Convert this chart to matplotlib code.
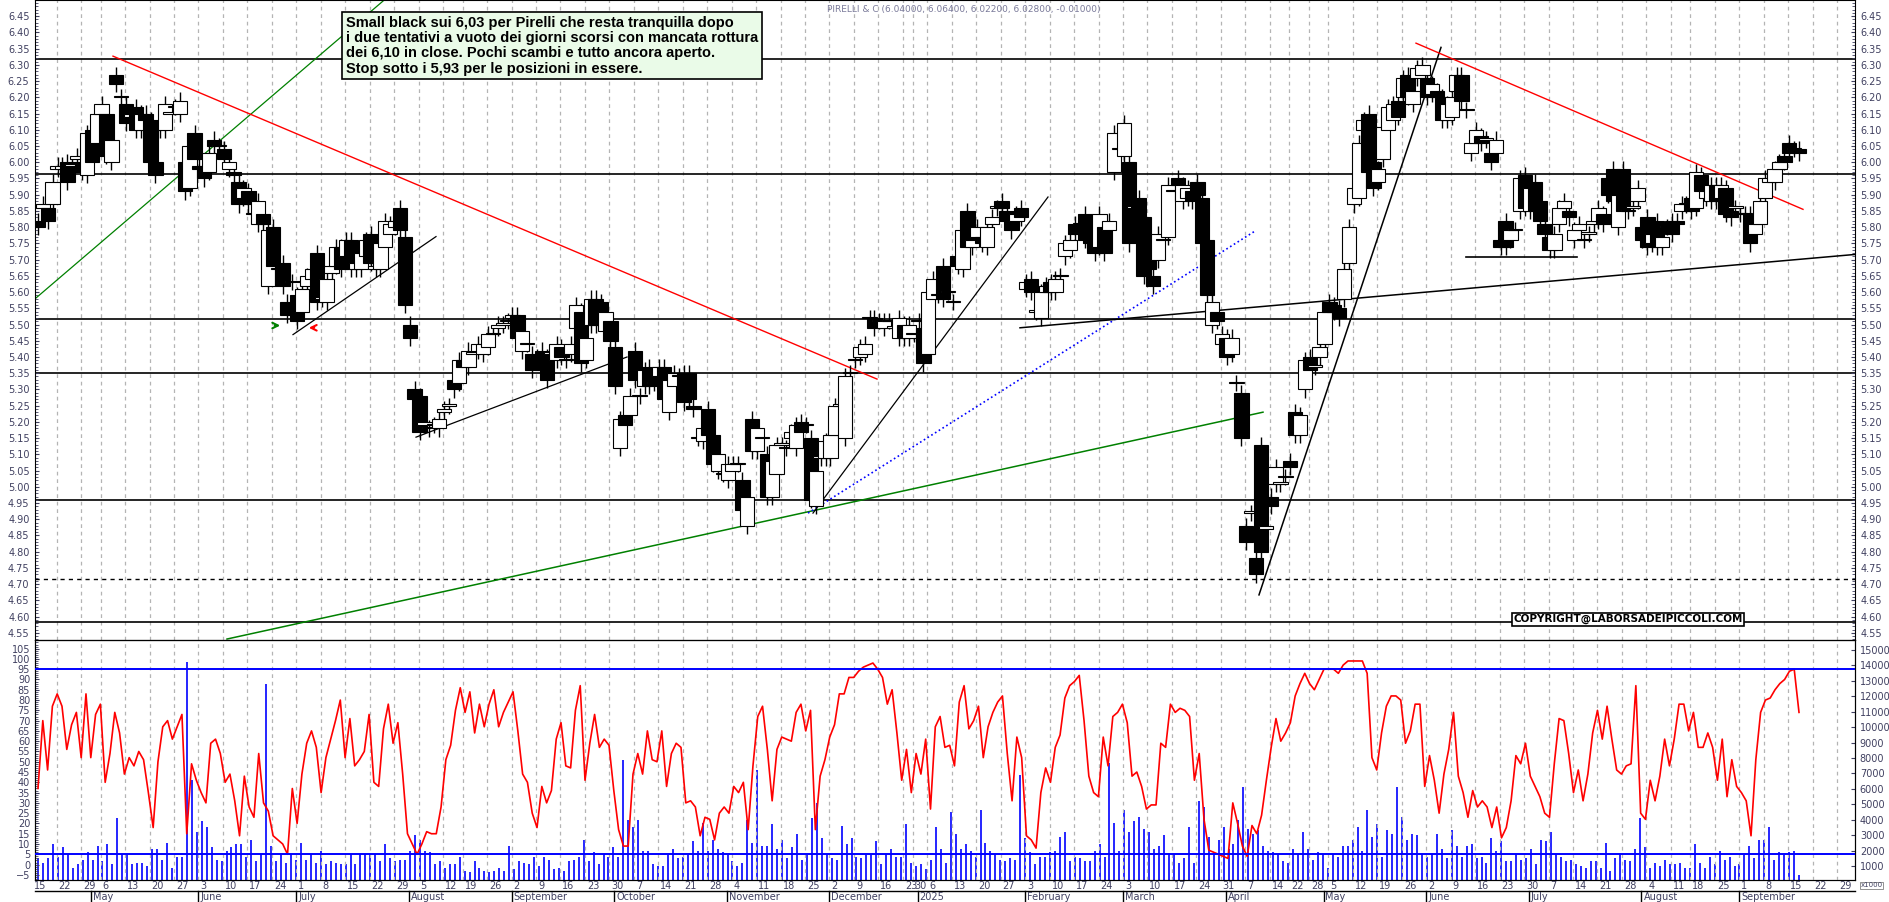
import numpy as np
import pandas as pd
import matplotlib
matplotlib.use("Agg")
import matplotlib.pyplot as plt
from matplotlib.patches import Rectangle
from matplotlib.transforms import blended_transform_factory as btf

# ---------------- DATA ----------------
opens = [5.82,5.86,5.86,5.87,5.98,5.98,6.00,5.99,6.01,6.00,5.96,6.10,6.06,6.15,6.15,6.00,6.27,6.20,6.18,6.14,
 6.17,6.10,6.15,6.13,6.00,6.11,6.10,6.15,6.17,6.15,6.00,5.92,6.09,5.99,5.99,5.97,6.07,6.05,6.04,5.98,
 5.97,5.94,5.89,5.91,5.84,5.81,5.84,5.62,5.80,5.67,5.69,5.57,5.63,5.59,5.54,5.62,5.64,5.72,5.58,5.57,
 5.66,5.68,5.74,5.71,5.76,5.67,5.67,5.71,5.78,5.67,5.67,5.74,5.78,5.80,5.86,5.77,5.50,5.30,5.28,5.19,
 5.18,5.19,5.18,5.23,5.25,5.33,5.32,5.39,5.37,5.41,5.42,5.41,5.43,
 5.47,5.49,5.50,5.51,5.52,5.53,5.42,5.44,5.41,5.40,5.42,5.40,5.41,5.39,5.43,5.39,5.41,5.49,5.54,5.39,
 5.50,5.58,5.57,5.48,5.51,5.43,5.12,5.22,5.22,5.42,5.28,5.31,5.37,5.32,5.34,5.37,5.23,5.31,5.34,5.35,
 5.35,5.25,5.15,5.14,5.24,5.16,5.05,5.04,5.02,5.05,5.07,5.02,4.88,5.21,5.11,5.15,5.10,4.97,5.04,5.13,
 5.12,5.15,5.12,5.20,5.19,5.15,4.94,5.09,5.09,5.09,5.16,5.25,5.15,5.35,5.39,5.40,5.41,5.52,5.52,5.51,
 5.49,5.51,5.49,5.46,5.50,5.46,5.47,5.51,5.49,5.41,5.58,5.59,
 5.68,5.60,5.57,5.71,5.67,5.85,5.74,5.77,5.77,5.74,5.81,5.86,5.88,5.85,5.82,5.82,5.86,5.61,5.64,5.54,
 5.52,5.60,5.63,5.60,5.65,5.71,5.73,5.81,5.81,5.84,5.77,5.76,5.74,5.80,5.79,5.97,6.04,6.02,6.00,5.86,
 5.89,5.83,5.72,5.65,5.70,5.76,5.77,5.91,5.95,5.88,5.89,5.91,5.94,5.89,5.76,5.50,5.54,5.44,5.46,5.41,
 5.32,5.29,4.88,4.92,4.78,5.13,4.87,4.97,5.01,5.01,5.03,5.08,5.23,5.16,5.30,5.40,5.37,5.40,5.44,5.57,
 5.56,5.55,5.58,5.69,5.87,5.89,6.10,6.15,6.00,5.94,6.01,6.10,
 6.13,6.19,6.20,6.27,6.18,6.26,6.27,6.26,6.21,6.22,6.20,6.13,6.14,6.22,6.27,6.16,6.03,6.06,6.08,6.07,
 6.03,6.03,5.76,5.82,5.76,5.79,5.85,5.96,5.85,5.94,5.88,5.81,5.77,5.73,5.81,5.86,5.85,5.76,5.79,5.76,
 5.78,5.81,5.82,5.84,5.95,5.98,5.80,5.98,5.85,5.86,5.88,5.80,5.83,5.75,5.82,5.74,5.80,5.82,5.82,5.85,
 5.87,5.89,5.86,5.96,5.89,5.88,5.93,5.89,5.92,5.85,5.86,5.84,5.84,5.84,5.78,5.81,5.89,5.94,5.94,5.98,
 6.02,6.06,6.04,6.04]
closes = [5.80,5.87,5.82,5.94,5.99,5.99,5.94,5.99,6.02,5.97,6.09,6.00,6.15,6.18,6.02,6.07,6.24,6.20,6.12,6.15,
 6.10,6.15,6.13,6.00,5.96,6.10,6.18,6.15,6.17,6.19,5.91,6.05,6.01,5.98,5.95,6.03,6.05,6.05,6.01,6.00,
 5.96,5.87,5.92,5.87,5.84,5.88,5.81,5.79,5.68,5.67,5.62,5.53,5.63,5.51,5.61,5.65,5.67,5.57,5.58,5.64,
 5.68,5.74,5.67,5.76,5.67,5.69,5.72,5.76,5.69,5.68,5.75,5.82,5.81,5.82,5.79,5.56,5.46,5.27,5.17,5.20,
 5.18,5.19,5.21,5.24,5.25,5.30,5.39,5.37,5.42,5.41,5.44,5.44,5.47,
 5.47,5.50,5.50,5.51,5.53,5.46,5.48,5.44,5.36,5.40,5.36,5.33,5.41,5.44,5.40,5.39,5.44,5.56,5.38,5.46,
 5.58,5.50,5.53,5.54,5.45,5.31,5.21,5.19,5.28,5.33,5.28,5.36,5.31,5.32,5.37,5.27,5.33,5.35,5.34,5.26,
 5.27,5.24,5.15,5.18,5.16,5.07,5.10,5.04,5.07,5.07,5.07,4.93,4.97,5.11,5.18,5.15,4.97,5.08,5.13,5.13,
 5.12,5.17,5.19,5.17,5.19,4.96,5.05,5.09,5.14,5.16,5.25,5.25,5.34,5.35,5.39,5.43,5.44,5.52,5.49,5.51,
 5.51,5.51,5.49,5.52,5.46,5.50,5.47,5.51,5.38,5.60,5.64,5.59,
 5.58,5.60,5.57,5.68,5.79,5.74,5.76,5.80,5.75,5.80,5.83,5.86,5.86,5.82,5.79,5.84,5.83,5.63,5.60,5.54,
 5.60,5.62,5.60,5.64,5.65,5.75,5.76,5.78,5.81,5.76,5.75,5.72,5.84,5.72,5.82,6.09,6.04,6.12,5.75,5.86,
 5.82,5.65,5.67,5.62,5.78,5.76,5.93,5.91,5.93,5.93,5.92,5.88,5.90,5.75,5.59,5.57,5.51,5.47,5.40,5.46,
 5.32,5.15,4.83,4.92,4.73,4.80,4.88,4.94,5.06,5.01,5.03,5.06,5.16,5.22,5.39,5.36,5.37,5.43,5.54,5.54,
 5.54,5.52,5.67,5.80,5.92,6.06,6.13,5.97,5.92,5.98,6.11,6.17,
 6.18,6.14,6.26,6.20,6.22,6.29,6.30,6.20,6.24,6.20,6.13,6.18,6.20,6.27,6.19,6.16,6.06,6.10,6.06,6.07,
 6.00,6.07,5.74,5.74,5.79,5.79,5.95,5.86,5.92,5.85,5.82,5.78,5.73,5.78,5.86,5.88,5.83,5.79,5.81,5.76,
 5.78,5.82,5.86,5.81,5.90,5.88,5.90,5.85,5.85,5.86,5.92,5.76,5.74,5.78,5.74,5.77,5.80,5.78,5.81,5.87,
 5.87,5.85,5.97,5.91,5.91,5.93,5.88,5.93,5.84,5.83,5.86,5.84,5.84,5.75,5.81,5.88,5.95,5.95,5.98,6.00,
 6.00,6.03,6.04,6.03]

osc = [37,70,46,77,83,77,56,68,74,52,83,52,73,78,40,54,74,64,44,52,48,55,51,35,18,50,67,70,61,67,
 73,15,49,41,35,30,59,61,54,40,44,31,14,43,28,23,54,30,26,14,12,10,5,37,20,44,59,65,57,35,
 52,61,70,80,52,71,48,51,55,73,40,38,66,78,59,69,44,15,10,5,10,16,15,15,28,51,58,75,86,74,
 84,64,78,67,78,85,67,
 74,79,84,65,44,40,25,18,38,30,36,61,69,48,47,75,87,41,59,73,57,61,58,36,17,9,9,44,54,44,
 65,51,50,65,38,54,59,57,30,31,28,14,23,22,12,25,28,25,38,35,40,17,48,72,77,56,31,56,62,61,
 60,74,78,65,75,17,43,51,62,68,83,83,91,91,94,96,97,98,95,91,78,85,64,41,56,35,54,44,61,27,
 67,72,57,58,48,
 79,87,66,70,77,52,67,74,79,82,54,31,62,52,14,12,8,35,47,40,57,63,81,87,89,92,70,43,35,33,
 62,48,72,74,78,69,43,45,38,27,29,29,59,57,78,74,76,75,72,41,54,22,7,6,5,4,3,30,20,9,
 4,19,15,24,41,57,71,60,64,69,82,88,93,88,85,90,95,95,95,93,97,99,99,99,99,93,52,46,64,77,
 82,82,
 80,59,65,78,78,38,53,41,25,44,56,74,43,35,23,36,28,31,28,18,28,13,18,31,53,49,59,43,38,33,
 25,23,49,71,70,54,35,46,31,44,64,75,61,77,61,46,44,48,49,87,25,22,41,31,43,61,48,61,78,78,
 65,74,57,57,64,57,41,61,33,51,38,35,31,14,51,74,80,81,85,88,90,94,95,74]

volume_k = [1.5,1.2,1.5,2.4,1.6,2.2,1.8,0.85,1.1,1.4,1.9,1.4,2.3,1.3,2.4,1.1,4.1,1.8,1.8,1.1,
 1.2,1.2,1.0,2.1,2.1,1.4,2.5,0.85,1.6,1.6,14.2,6.6,3.2,3.9,3.5,2.2,1.4,1.3,2.0,2.2,
 2.4,2.4,1.6,2.7,1.3,1.8,12.8,2.3,1.3,1.7,1.2,1.8,1.4,2.5,1.4,1.8,1.2,2.0,1.1,1.3,
 1.2,1.1,1.1,1.8,1.1,1.8,1.8,1.8,1.8,1.3,2.4,1.5,1.3,1.4,1.4,2.0,3.0,2.7,2.0,1.9,
 1.1,1.3,0.9,1.1,1.1,1.6,0.7,0.6,1.3,0.9,0.7,0.6,0.7,0.85,0.7,
 2.3,0.8,1.3,1.2,1.1,1.6,1.0,1.6,1.4,0.8,0.9,0.7,1.3,1.4,1.6,2.7,1.3,1.9,1.1,1.8,
 1.6,2.2,1.6,7.9,4.0,3.5,4.0,2.0,2.0,1.1,1.0,1.0,1.7,2.1,1.5,1.6,1.7,2.6,2.0,3.8,
 2.0,2.7,2.1,1.9,1.7,1.3,1.0,1.2,4.0,2.5,7.2,2.3,2.3,3.7,2.1,2.7,1.5,2.2,3.1,1.4,
 1.7,4.1,5.1,2.8,1.8,1.5,1.4,3.6,2.4,2.8,1.6,1.5,1.7,1.7,2.6,1.1,1.8,2.1,1.6,1.6,
 3.7,1.2,1.0,1.1,0.8,1.4,3.5,2.1,
 1.2,4.5,3.1,2.1,2.4,2.0,1.6,4.6,2.5,2.0,1.7,1.4,1.3,1.5,1.4,6.9,2.8,1.9,1.1,1.6,
 1.6,1.9,2.0,2.9,3.2,1.3,1.6,1.5,1.3,1.3,2.0,2.4,1.6,7.7,3.8,2.0,4.6,3.2,3.9,4.2,
 3.4,3.2,2.1,2.3,3.0,1.8,1.8,1.2,1.5,3.5,1.2,5.2,4.8,2.9,1.9,2.7,3.5,2.1,2.4,4.0,
 6.1,3.4,3.1,3.3,2.3,2.0,1.9,1.8,1.3,1.2,2.1,1.8,3.2,2.1,1.4,1.9,1.8,0.9,1.8,1.6,
 2.3,2.3,2.7,3.5,2.0,4.6,2.9,3.7,1.6,3.3,3.1,6.1,
 4.2,2.7,3.1,3.0,1.8,1.6,1.8,3.1,2.1,1.5,3.3,2.3,1.6,2.3,2.4,1.5,1.6,1.2,2.8,2.0,
 2.6,1.3,1.3,1.8,1.4,1.5,2.1,1.1,2.7,2.6,3.2,1.8,1.6,1.3,1.4,1.1,1.0,0.85,1.3,1.3,
 0.85,2.5,0.7,1.5,1.8,1.4,1.3,2.1,4.1,2.2,0.9,1.2,1.0,1.4,1.1,1.1,1.2,0.9,0.9,2.4,
 1.2,0.9,1.6,1.1,2.0,1.4,1.6,1.0,1.1,1.7,2.3,1.5,2.7,2.7,3.5,1.4,1.9,1.7,1.9,2.0,0.4]

price_levels = [6.319, 5.963, 5.517, 5.350, 4.960, 4.583]
dashed_level = 4.716
month_names = {1:"2025",2:"February",3:"March",4:"April",5:"May",6:"June",7:"July",
               8:"August",9:"September",10:"October",11:"November",12:"December"}
holidays = ["2024-05-01","2024-08-15","2024-12-24","2024-12-25","2024-12-26","2024-12-31",
            "2025-01-01","2025-04-18","2025-04-21","2025-05-01","2025-08-15"]
title_txt = "PIRELLI & C (6.04000, 6.06400, 6.02200, 6.02800, -0.01000)"
note_txt = ("Small black sui 6,03 per Pirelli che resta tranquilla dopo\n"
            "i due tentativi a vuoto dei giorni scorsi con mancata rottura\n"
            "dei 6,10 in close. Pochi scambi e tutto ancora aperto.\n"
            "Stop sotto i 5,93 per le posizioni in essere.")

# ---------------- LAYOUT ----------------
W, H = 1890, 902
fig = plt.figure(figsize=(W/100, H/100), dpi=100)
fig.patch.set_facecolor("white")
L, R = 35, 1855
ax = fig.add_axes([L/W, 1-640/H, (R-L)/W, 640/H])
ax2 = fig.add_axes([L/W, 1-880/H, (R-L)/W, 240/H], sharex=ax)
axv = ax2.twinx()

N = len(closes)
step = (1799-38)/(N-1)
xmin = -(38-L)/step
xmax = (N-1) + (R-1799)/step

o = np.array(opens[:N]); c = np.array(closes)
x = np.arange(N)
hi = np.maximum(o, c) + 0.025
lo = np.minimum(o, c) - 0.025

bd = pd.bdate_range(end="2025-09-16", periods=N+20)
bd = bd[~bd.isin(pd.to_datetime(holidays))][-N:]

wk = pd.Series(range(N), index=bd)
iso = bd.isocalendar()
first_of_week = wk.groupby([iso.year.values, iso.week.values]).first()
grid_pos = [p - 1.2 for p in first_of_week.values]
fut_days = [pd.Timestamp("2025-09-22"), pd.Timestamp("2025-09-29")]
for d in fut_days:
    grid_pos.append(grid_pos[-1] + 5)
grid_labels = [bd[p].day for p in first_of_week.values] + [d.day for d in fut_days]

for a in (ax, ax2):
    for gx in grid_pos:
        a.axvline(gx, color="#b4b4b4", lw=0.9, ls=(0, (3, 3)), zorder=0)

# ---------------- PRICE PANEL ----------------
ax.set_xlim(xmin, xmax)
ax.set_ylim(4.528, 6.50)
for lv in price_levels:
    ax.axhline(lv, color="black", lw=1.2, zorder=1)
ax.axhline(dashed_level, color="black", lw=1.0, ls=(0, (3, 3)), zorder=1)

def pidx(px):
    return (px-38)/step

seg = [
    (30, 5.566, 385, 6.502, "green", "-", 0.9),
    (113, 6.327, 877, 5.332, "red", "-", 1.0),
    (293, 5.469, 436, 5.771, "black", "-", 0.9),
    (416, 5.153, 627, 5.400, "black", "-", 0.9),
    (227, 4.531, 1263, 5.230, "green", "-", 1.1),
    (813, 4.919, 1048, 5.893, "black", "-", 0.9),
    (808, 4.919, 1255, 5.788, "blue", ":", 1.2),
    (1020, 5.490, 1855, 5.716, "black", "-", 1.1),
    (1466, 5.707, 1577, 5.707, "black", "-", 1.2),
    (1259, 4.667, 1441, 6.354, "black", "-", 1.1),
    (1416, 6.367, 1803, 5.855, "red", "-", 1.0),
]
for x0, p0, x1, p1, col, ls, lw in seg:
    ax.plot([pidx(x0), pidx(x1)], [p0, p1], color=col, ls=ls, lw=lw, zorder=2)

bw = step*0.6
ax.vlines(x, lo, hi, color="black", lw=1.0, zorder=3)
for i in range(N):
    up = c[i] >= o[i]
    b0, b1 = min(o[i], c[i]), max(o[i], c[i])
    hgt = max(b1-b0, 0.004)
    ax.add_patch(Rectangle((i-bw/2, b0), bw, hgt, facecolor="white" if up else "black",
                           edgecolor="black", lw=0.8, zorder=4))

ax.annotate("", xy=(pidx(283), 5.497), xytext=(pidx(272), 5.497),
            arrowprops=dict(arrowstyle="->", color="green", lw=1.5))
ax.annotate("", xy=(pidx(306), 5.49), xytext=(pidx(317), 5.49),
            arrowprops=dict(arrowstyle="->", color="red", lw=1.5))

yt = np.round(np.arange(4.55, 6.451, 0.05), 2)
ax.set_yticks(yt)
ax.set_yticklabels([f"{v:.2f}" for v in yt])
ax.set_yticks(np.arange(4.53, 6.50, 0.01), minor=True)
ax.tick_params(axis="y", which="both", left=True, right=True, labelleft=True, labelright=True,
               labelsize=7, colors="#404060", length=3, direction="in", pad=4)
ax.tick_params(axis="y", which="minor", length=2)
ax.tick_params(axis="x", bottom=False, labelbottom=False)

ax.text(0.435, 0.992, title_txt, transform=ax.transAxes, fontsize=6.5, color="#7a7a9a",
        ha="left", va="top")
ax.text(pidx(346), 6.452, note_txt, fontsize=10.5, fontweight="bold", family="Liberation Sans",
        ha="left", va="top", linespacing=1.12, zorder=6,
        bbox=dict(boxstyle="square,pad=0.25", facecolor="#eafbe8", edgecolor="black", lw=1.2))
ax.text(pidx(1628), 4.592, "COPYRIGHT@LABORSADEIPICCOLI.COM", fontsize=7.5, fontweight="bold",
        ha="center", va="center", zorder=6,
        bbox=dict(boxstyle="square,pad=0.15", facecolor="white", edgecolor="black", lw=1.2))

# ---------------- OSCILLATOR / VOLUME PANEL ----------------
ax2.set_ylim(-7.5, 109.2)
axv.set_ylim(0.09, 15.65)
vx = np.linspace(0, N-1, len(volume_k))
axv.vlines(vx, 0.09, volume_k, color="#0000ff", lw=1.2, zorder=2)
ox = np.linspace(0, N-1, len(osc))
ax2.plot(ox, osc, color="#ff0000", lw=1.2, zorder=4)
ax2.axhline(95, color="#0000ff", lw=1.4, zorder=5)
ax2.axhline(5, color="#0000ff", lw=1.4, zorder=5)
ax2.set_zorder(axv.get_zorder()+1)
ax2.patch.set_visible(False)

ax2.set_yticks(np.arange(-5, 106, 5))
ax2.set_yticks(np.arange(-7, 109, 1), minor=True)
ax2.tick_params(axis="y", which="both", labelsize=7, colors="#404060", length=3, direction="in")
ax2.tick_params(axis="y", which="minor", length=2)
vt = np.arange(1, 16, 1)
axv.set_yticks(vt)
axv.set_yticklabels([f"{int(v*1000)}" for v in vt])
axv.tick_params(axis="y", labelsize=7, colors="#404060", length=3, direction="in")
axv.text(1.003, -0.01, "x1000", transform=axv.transAxes, fontsize=5, color="#404060",
         ha="left", va="top", bbox=dict(facecolor="white", edgecolor="#808080", lw=0.6, pad=0.5))
ax2.tick_params(axis="x", bottom=False, labelbottom=False)

# date axis
tr = btf(ax2.transData, fig.transFigure)
for gx, lab in zip(grid_pos, grid_labels):
    fig.text(gx+0.4, 1-886/H, str(lab), transform=tr, fontsize=7, color="#404060",
             ha="left", va="center")
first_idx = bd.to_series().groupby([bd.year, bd.month]).head(1)
for d in first_idx.index:
    p = bd.get_loc(d)
    if p < 2:
        continue
    fig.add_artist(plt.Line2D([p-1.2, p-1.2], [1-891/H, 0], transform=tr, color="black", lw=1.0))
    fig.text(p-0.8, 1-897/H, month_names[d.month], transform=tr, fontsize=7, color="#404060",
             ha="left", va="center")
fig.add_artist(plt.Line2D([xmin, xmax], [1-891/H, 1-891/H], transform=tr, color="black", lw=1.0))

fig.savefig("out.png", dpi=100, facecolor="white")
